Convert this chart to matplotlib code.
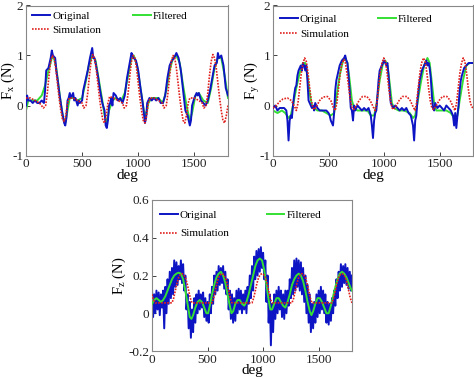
import numpy as np
import matplotlib
matplotlib.use("Agg")
import matplotlib.pyplot as plt
from matplotlib.ticker import FuncFormatter

plt.rcParams['font.family'] = ['Liberation Serif', 'DejaVu Serif']
plt.rcParams['mathtext.fontset'] = 'custom'
plt.rcParams['mathtext.rm'] = 'Liberation Serif'

# ---------------- data (deg, value) ----------------
fx_original = [(0,0.0),(10,0.2),(20,0.1),(40,0.1),(60,0.05),(80,0.1),(100,0.05),(120,0.05),(140,0.1),(160,0.05),
    (170,0.3),(180,0.7),(200,0.75),(220,0.95),(230,1.1),(240,1.0),(260,0.95),(270,0.7),(280,0.55),(300,0.2),
    (320,-0.1),(340,-0.35),(350,-0.4),(360,-0.25),(370,0.1),(380,0.15),(390,0.25),(400,0.15),(410,0.2),(420,0.25),
    (430,0.1),(440,0.15),(460,0.0),(470,0.1),(480,0.05),(500,0.1),(510,0.3),(530,0.5),(550,0.7),(570,0.95),
    (590,1.15),(600,0.95),(610,0.95),(620,0.85),(640,0.6),(660,0.3),(680,0.05),(700,-0.1),(710,-0.4),(720,-0.45),
    (730,-0.3),(740,0.0),(750,0.05),(760,0.15),(770,0.0),(780,0.25),(800,0.2),(820,0.1),(840,0.15),(860,0.05),
    (880,0.2),(900,0.55),(920,0.8),(940,1.05),(950,1.0),(960,0.95),(980,0.9),(1000,0.7),(1020,0.35),(1040,0.05),
    (1060,-0.35),(1070,-0.25),(1080,0.05),(1100,0.15),(1120,0.1),(1140,0.15),(1160,0.1),(1180,0.15),(1200,0.05),(1220,0.05),
    (1240,0.2),(1260,0.55),(1280,0.8),(1300,0.9),(1320,0.95),(1340,1.05),(1360,0.95),(1380,0.7),(1400,0.3),(1420,-0.1),
    (1440,-0.2),(1460,-0.4),(1470,-0.3),(1480,0.0),(1500,0.15),(1520,0.25),(1530,0.2),(1540,0.25),(1560,0.1),(1580,0.05),
    (1600,0.0),(1620,0.1),(1640,0.3),(1660,0.55),(1680,0.8),(1700,0.85),(1710,1.05),(1720,0.95),(1740,1.0),(1760,0.8),
    (1780,0.35),(1800,0.2)]
fx_filtered = [(0,-0.1),(20,0.1),(60,0.1),(100,0.1),(140,0.2),(170,0.4),(200,0.7),(230,0.95),(250,0.95),(270,0.75),
    (290,0.4),(310,0.05),(330,-0.25),(350,-0.35),(370,-0.1),(390,0.15),(420,0.15),(460,0.1),(500,0.15),(530,0.45),
    (560,0.8),(590,1.0),(620,0.9),(650,0.5),(680,0.1),(700,-0.2),(720,-0.35),(740,-0.1),(770,0.1),(800,0.15),
    (850,0.1),(880,0.25),(910,0.6),(940,0.95),(960,1.0),(990,0.8),(1020,0.35),(1050,-0.1),(1070,-0.2),(1090,0.05),
    (1120,0.15),(1180,0.15),(1220,0.05),(1250,0.3),(1280,0.7),(1310,0.95),(1340,1.0),(1370,0.85),(1400,0.4),(1430,0.0),
    (1460,-0.3),(1480,-0.15),(1510,0.2),(1540,0.25),(1580,0.1),(1620,0.05),(1650,0.35),(1680,0.75),(1710,0.95),(1740,0.95),
    (1770,0.6),(1800,0.15)]
fx_simulation = [(0,0.15),(40,0.15),(80,0.1),(120,0.05),(155,-0.05),(175,0.0),(190,0.25),(205,0.6),(220,0.88),(235,1.0),
    (250,0.95),(265,0.75),(280,0.45),(295,0.15),(310,-0.1),(325,-0.27),(340,-0.32),(355,-0.2),(370,0.05),(385,0.15),
    (420,0.15),(460,0.1),(500,0.05),(515,-0.05),(535,0.0),(550,0.25),(565,0.6),(580,0.88),(595,1.02),(610,0.95),
    (625,0.75),(640,0.45),(655,0.15),(670,-0.1),(685,-0.3),(700,-0.35),(715,-0.2),(730,0.05),(745,0.18),
    (780,0.15),(820,0.1),(860,0.05),(875,-0.05),(895,0.0),(910,0.25),(925,0.6),(940,0.88),(955,1.0),(970,0.95),
    (985,0.75),(1000,0.45),(1015,0.15),(1030,-0.1),(1045,-0.3),(1060,-0.35),(1075,-0.2),(1090,0.05),(1105,0.15),
    (1140,0.15),(1180,0.1),(1215,0.05),(1230,-0.05),(1250,0.0),(1265,0.25),(1280,0.6),(1295,0.88),(1310,1.0),(1325,0.95),
    (1340,0.75),(1355,0.45),(1370,0.15),(1385,-0.1),(1400,-0.3),(1415,-0.35),(1430,-0.2),(1445,0.05),(1460,0.15),
    (1500,0.15),(1540,0.1),(1570,0.05),(1585,-0.05),(1605,0.0),(1620,0.25),(1635,0.6),(1650,0.88),(1665,1.02),(1680,0.95),
    (1695,0.75),(1710,0.45),(1725,0.15),(1740,-0.1),(1755,-0.3),(1770,-0.35),(1785,-0.2),(1800,0.0)]

fy_original = [(0,-0.05),(20,0.0),(40,-0.1),(60,-0.05),(80,-0.05),(100,-0.05),(120,-0.1),(130,-0.3),(140,-0.7),(150,-0.3),
    (160,-0.2),(170,-0.25),(180,0.0),(190,0.2),(200,0.35),(210,0.4),(220,0.6),(230,0.7),(240,0.75),(250,0.8),
    (260,0.7),(270,0.85),(280,0.8),(290,0.7),(300,0.8),(310,0.5),(320,0.1),(330,0.05),(340,0.0),(350,-0.05),
    (360,0.0),(370,-0.1),(380,0.05),(390,0.0),(400,-0.05),(420,-0.1),(440,-0.1),(460,-0.1),(480,-0.1),(500,-0.15),
    (510,-0.2),(520,-0.3),(530,-0.35),(540,-0.4),(550,-0.15),(560,0.3),(570,0.5),(580,0.6),(590,0.7),(600,0.8),
    (610,0.85),(620,0.9),(640,0.95),(650,1.0),(660,0.9),(670,0.85),(680,0.6),(690,0.3),(700,-0.05),(710,-0.1),
    (720,-0.3),(730,0.0),(740,-0.1),(760,0.0),(780,-0.05),(800,-0.1),(820,-0.05),(840,-0.1),(860,-0.05),(880,-0.2),
    (890,-0.4),(900,-0.65),(910,-0.3),(920,-0.15),(930,-0.1),(940,0.2),(950,0.5),(960,0.7),(980,0.8),(1000,0.9),
    (1010,0.85),(1020,0.8),(1030,0.85),(1040,0.6),(1050,0.3),(1060,0.05),(1080,-0.05),(1100,0.0),(1120,-0.05),(1140,-0.1),
    (1160,-0.05),(1180,-0.1),(1200,-0.05),(1220,-0.15),(1240,-0.2),(1260,-0.4),(1270,-0.7),(1280,-0.3),(1290,-0.2),(1300,0.1),
    (1310,0.3),(1320,0.5),(1340,0.7),(1360,0.8),(1380,0.9),(1390,0.8),(1400,0.85),(1410,0.75),(1420,0.55),(1430,0.2),
    (1440,-0.05),(1450,-0.1),(1460,0.05),(1480,-0.05),(1500,0.0),(1520,-0.05),(1540,-0.1),(1560,0.0),(1580,-0.05),(1600,-0.1),
    (1620,-0.2),(1630,-0.4),(1640,-0.15),(1650,-0.45),(1660,-0.2),(1670,0.0),(1680,0.3),(1690,0.5),(1700,0.6),(1720,0.75),
    (1740,0.8),(1760,0.85),(1780,0.85),(1800,0.85)]
fy_filtered = [(0,-0.1),(40,-0.15),(80,-0.1),(110,-0.15),(140,-0.25),(160,-0.2),(180,0.0),(210,0.35),(240,0.65),(270,0.85),
    (290,0.85),(310,0.6),(330,0.25),(350,0.0),(370,-0.05),(400,-0.1),(440,-0.1),(480,-0.15),(520,-0.2),(550,-0.15),
    (570,0.15),(600,0.6),(630,0.9),(650,0.95),(670,0.85),(690,0.5),(710,0.1),(730,-0.05),(760,-0.1),(800,-0.1),
    (850,-0.1),(880,-0.2),(910,-0.2),(930,0.0),(960,0.5),(990,0.85),(1010,0.9),(1030,0.8),(1050,0.45),(1070,0.05),
    (1090,-0.05),(1130,-0.1),(1180,-0.1),(1230,-0.15),(1260,-0.25),(1280,-0.2),(1300,0.05),(1330,0.45),(1360,0.8),(1390,0.95),
    (1410,0.85),(1430,0.45),(1450,0.05),(1470,-0.1),(1510,-0.1),(1560,-0.1),(1600,-0.15),(1630,-0.25),(1660,-0.2),(1680,0.1),
    (1710,0.5),(1740,0.8),(1770,0.85),(1800,0.85)]
fy_simulation = [(0,-0.05),(30,0.0),(60,0.08),(90,0.13),(130,0.15),(165,0.1),(190,0.0),(210,-0.1),(225,0.05),(240,0.35),
    (255,0.65),(270,0.85),(285,0.95),(300,0.88),(315,0.65),(330,0.35),(345,0.1),(360,-0.05),(375,-0.08),(395,0.0),
    (420,0.1),(450,0.17),(490,0.18),(520,0.1),(545,-0.05),(560,-0.1),(575,0.05),(590,0.35),(605,0.65),(620,0.83),
    (637,0.92),(652,0.85),(667,0.62),(682,0.35),(697,0.1),(712,-0.05),(727,-0.08),(750,0.0),(775,0.1),(805,0.18),
    (845,0.18),(875,0.1),(900,-0.02),(918,-0.1),(935,0.05),(950,0.35),(965,0.65),(980,0.85),(997,0.95),(1012,0.88),
    (1027,0.65),(1042,0.35),(1057,0.1),(1072,-0.05),(1087,-0.08),(1110,0.0),(1135,0.1),(1165,0.18),(1205,0.18),(1235,0.1),
    (1260,-0.02),(1278,-0.1),(1292,0.05),(1307,0.35),(1322,0.65),(1337,0.85),(1355,0.95),(1370,0.88),(1385,0.65),(1400,0.35),
    (1415,0.1),(1430,-0.05),(1445,-0.08),(1470,0.0),(1495,0.1),(1525,0.18),(1565,0.18),(1595,0.1),(1620,-0.02),(1638,-0.1),
    (1652,0.05),(1667,0.35),(1682,0.65),(1697,0.85),(1712,0.95),(1727,0.88),(1742,0.65),(1757,0.35),(1772,0.1),(1787,-0.02),
    (1800,-0.05)]

fz_original = [(0,0.13),(10,-0.02),(20,0.1),(30,0.0),(40,0.12),(50,0.02),(60,0.11),(70,-0.01),(80,0.1),(90,0.03),
    (100,0.12),(110,-0.08),(120,0.14),(130,0.0),(140,0.18),(150,0.05),(160,0.22),(170,0.08),(180,0.24),(190,0.1),
    (200,0.28),(210,0.14),(220,0.27),(230,0.15),(240,0.25),(250,0.18),(260,0.28),(270,0.16),(280,0.26),(290,0.12),
    (300,0.2),(310,0.02),(320,0.1),(330,-0.08),(340,0.06),(350,-0.13),(360,0.02),(370,-0.1),(380,0.08),(390,-0.05),
    (400,0.1),(410,0.0),(420,0.12),(430,0.02),(440,0.1),(450,0.03),(460,0.11),(470,-0.02),(480,0.08),(490,-0.04),
    (500,0.06),(510,-0.05),(520,0.1),(530,0.0),(540,0.14),(550,0.05),(560,0.2),(570,0.1),(580,0.22),(590,0.12),
    (600,0.25),(610,0.15),(620,0.24),(630,0.16),(640,0.25),(650,0.13),(660,0.22),(670,0.1),(680,0.18),(690,0.02),
    (700,0.12),(710,-0.03),(720,0.1),(730,-0.05),(740,0.08),(750,-0.04),(760,0.12),(770,0.0),(780,0.13),(790,0.02),
    (800,0.12),(810,0.0),(820,0.1),(830,0.02),(840,0.12),(850,0.0),(860,0.14),(870,0.05),(880,0.2),(890,0.08),
    (900,0.25),(910,0.12),(920,0.3),(930,0.18),(940,0.33),(950,0.2),(960,0.34),(970,0.22),(980,0.35),(990,0.24),
    (1000,0.32),(1010,0.18),(1020,0.28),(1030,0.06),(1040,0.2),(1050,-0.05),(1060,0.1),(1070,-0.17),(1080,0.05),(1090,-0.1),
    (1100,0.1),(1110,-0.03),(1120,0.12),(1130,0.0),(1140,0.14),(1150,0.02),(1160,0.12),(1170,-0.02),(1180,0.1),(1190,-0.03),
    (1200,0.12),(1210,0.0),(1220,0.12),(1230,0.04),(1240,0.18),(1250,0.08),(1260,0.24),(1270,0.1),(1280,0.28),(1290,0.12),
    (1300,0.29),(1310,0.14),(1320,0.28),(1330,0.12),(1340,0.27),(1350,0.1),(1360,0.24),(1370,0.06),(1380,0.2),(1390,0.0),
    (1400,0.15),(1410,-0.05),(1420,0.1),(1430,-0.1),(1440,0.05),(1450,-0.08),(1460,0.06),(1470,-0.05),(1480,0.1),(1490,-0.02),
    (1500,0.12),(1510,0.0),(1520,0.14),(1530,0.02),(1540,0.12),(1550,0.0),(1560,0.1),(1570,-0.05),(1580,0.06),(1590,-0.06),
    (1600,0.05),(1610,-0.04),(1620,0.08),(1630,0.0),(1640,0.12),(1650,0.04),(1660,0.18),(1670,0.08),(1680,0.22),(1690,0.12),
    (1700,0.26),(1710,0.14),(1720,0.25),(1730,0.16),(1740,0.26),(1750,0.15),(1760,0.24),(1770,0.13),(1780,0.22),(1790,0.12),
    (1800,0.2)]
fz_filtered = [(0,0.05),(20,0.07),(40,0.08),(60,0.07),(80,0.06),(100,0.07),(120,0.09),(140,0.12),(160,0.15),(180,0.18),
    (200,0.2),(220,0.21),(240,0.215),(260,0.21),(280,0.18),(300,0.12),(320,0.05),(340,-0.02),(355,-0.03),(370,-0.01),
    (390,0.03),(410,0.06),(430,0.07),(450,0.06),(470,0.03),(490,0.0),(505,0.0),(520,0.04),(540,0.1),(560,0.15),
    (580,0.19),(600,0.21),(620,0.22),(640,0.2),(660,0.16),(680,0.1),(700,0.04),(715,0.0),(730,0.01),(750,0.05),
    (770,0.07),(790,0.07),(810,0.05),(830,0.04),(850,0.06),(870,0.1),(890,0.15),(910,0.2),(930,0.25),(950,0.28),
    (970,0.29),(990,0.28),(1010,0.23),(1030,0.15),(1050,0.07),(1065,0.02),(1080,0.02),(1100,0.05),(1120,0.08),(1140,0.08),
    (1160,0.06),(1180,0.04),(1200,0.03),(1220,0.06),(1240,0.1),(1260,0.15),(1280,0.18),(1300,0.2),(1320,0.21),(1340,0.2),
    (1360,0.17),(1380,0.12),(1400,0.06),(1420,0.01),(1435,-0.01),(1450,0.01),(1470,0.05),(1490,0.08),(1510,0.08),(1530,0.06),
    (1550,0.03),(1570,0.0),(1590,0.0),(1610,0.04),(1630,0.09),(1650,0.14),(1670,0.18),(1690,0.21),(1710,0.22),(1730,0.21),
    (1750,0.19),(1770,0.16),(1790,0.13),(1800,0.12)]
fz_simulation = [(0,0.1),(15,0.07),(30,0.055),(180,0.055),(195,0.08),(210,0.12),(225,0.16),(240,0.19),(255,0.205),(270,0.21),
    (285,0.205),(300,0.19),(315,0.16),(330,0.12),(345,0.08),(360,0.055),(540,0.055),(555,0.08),(570,0.12),(585,0.16),
    (600,0.19),(615,0.205),(630,0.21),(645,0.205),(660,0.19),(675,0.16),(690,0.12),(705,0.08),(720,0.055),(900,0.055),
    (915,0.08),(930,0.12),(945,0.16),(960,0.19),(975,0.205),(990,0.21),(1005,0.205),(1020,0.19),(1035,0.16),(1050,0.12),
    (1065,0.08),(1080,0.055),(1260,0.055),(1275,0.08),(1290,0.12),(1305,0.16),(1320,0.19),(1335,0.205),(1350,0.21),(1365,0.205),
    (1380,0.19),(1395,0.16),(1410,0.12),(1425,0.08),(1440,0.055),(1620,0.055),(1635,0.08),(1650,0.12),(1665,0.16),(1680,0.19),
    (1695,0.205),(1710,0.21),(1725,0.205),(1740,0.19),(1755,0.16),(1770,0.12),(1785,0.08),(1800,0.055)]

x_ticks = [0, 500, 1000, 1500]
series_labels = ['Original', 'Filtered', 'Simulation']

BLUE = '#0c14c4'
GREEN = '#33e033'
RED = '#e0201c'

W, H = 474, 379
fig = plt.figure(figsize=(W / 100, H / 100), dpi=100)

def axrect(l, t, r, b):
    return [l / W, 1 - b / H, (r - l) / W, (b - t) / H]

def arr(p):
    a = np.array(p, dtype=float)
    return a[:, 0], a[:, 1]

def panel(rect, orig, filt, sim, ylim, yticks, ylabel, ylab_x, leg_anchor, colsp, lspace, green_on_top):
    ax = fig.add_axes(rect)
    xo, yo = arr(orig); xf, yf = arr(filt); xs, ys = arr(sim)
    zb, zg = (3, 2) if not green_on_top else (2, 3)
    lo, = ax.plot(xo, yo, color=BLUE, lw=1.4, zorder=zb)
    lf, = ax.plot(xf, yf, color=GREEN, lw=1.4, zorder=zg)
    ls, = ax.plot(xs, ys, color=RED, lw=1.2, ls=(0, (1, 0.8)), zorder=4)
    ax.set_xlim(0, 1800)
    ax.set_ylim(*ylim)
    ax.set_xticks(x_ticks)
    ax.set_yticks(yticks)
    ax.yaxis.set_major_formatter(FuncFormatter(lambda v, p: '%g' % v))
    ax.tick_params(direction='in', length=3, width=0.6, labelsize=9.5, pad=2, colors='#222222')
    for s in ax.spines.values():
        s.set_color('#888888')
        s.set_linewidth(0.8)
    ax.set_xlabel('deg', fontsize=11, labelpad=-1)
    ax.set_ylabel(ylabel, fontsize=10.5)
    ax.yaxis.set_label_coords(ylab_x, 0.5)
    ax.legend([lo, ls, lf], [series_labels[0], series_labels[2], series_labels[1]],
              ncol=2, loc='upper left', bbox_to_anchor=leg_anchor, frameon=False,
              fontsize=8, handlelength=1.6, handletextpad=0.2, columnspacing=colsp,
              labelspacing=lspace, borderpad=0, borderaxespad=0)
    return ax

panel(axrect(26, 5.5, 228, 155.5), fx_original, fx_filtered, fx_simulation,
      (-1, 2), [-1, 0, 1, 2], r'F$_\mathregular{x}$ (N)', (17 - 26) / 202,
      (0.03, 0.965), 2.9, 0.45, False)
panel(axrect(273, 5.5, 473, 155.5), fy_original, fy_filtered, fy_simulation,
      (-1, 2), [-1, 0, 1, 2], r'F$_\mathregular{y}$ (N)', (262 - 273) / 200,
      (0.035, 0.94), 2.6, 0.45, False)
panel(axrect(152, 200, 352, 351), fz_original, fz_filtered, fz_simulation,
      (-0.2, 0.6), [-0.2, 0, 0.2, 0.4, 0.6], r'F$_\mathregular{z}$ (N)', (128 - 152) / 200,
      (0.04, 0.93), 3.4, 0.75, True)

fig.savefig('out.png', dpi=100)
